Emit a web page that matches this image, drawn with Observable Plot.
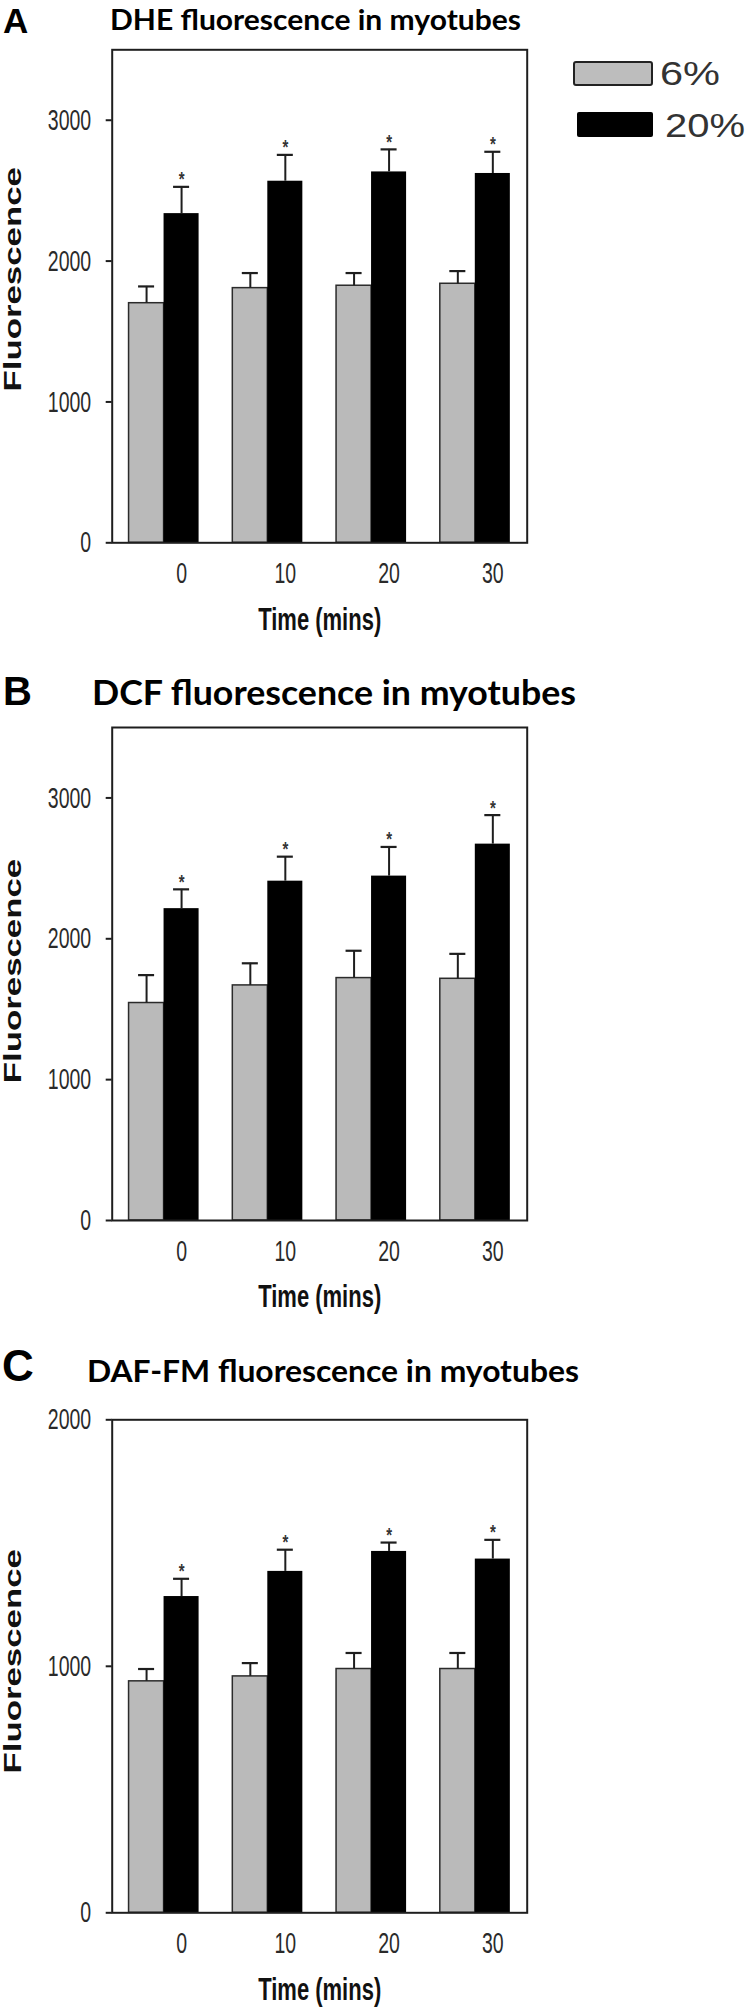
<!DOCTYPE html>
<html>
<head>
<meta charset="utf-8">
<script src="https://cdn.jsdelivr.net/npm/d3@7"></script>
<script src="https://cdn.jsdelivr.net/npm/@observablehq/plot@0.6"></script>
<style>
  html, body { margin: 0; padding: 0; background: #fff; }
  #root { position: relative; width: 750px; height: 2015px; overflow: hidden; background: #fff; }
  #root > svg.panel { position: absolute; left: 0; }
  #overlay { position: absolute; left: 0; top: 0; pointer-events: none; }
</style>
</head>
<body>
<div id="root"></div>
<script>
// ---------------- data ----------------
const times = ["0", "10", "20", "30"];
const groups = ["6%", "20%"];
const yTicksAB = [0, 1000, 2000, 3000];
const yTicksC = [0, 1000, 2000];

const dhe6 = [1701, 1808, 1825, 1839];
const dhe6Err = [119, 107, 90, 90];
const dhe20 = [2337, 2567, 2633, 2622];
const dhe20Err = [190, 187, 160, 154];

const dcf6 = [1544, 1669, 1721, 1716];
const dcf6Err = [198, 157, 194, 177];
const dcf20 = [2214, 2409, 2445, 2672];
const dcf20Err = [137, 174, 207, 206];

const daf6 = [939, 959, 989, 989];
const daf6Err = [50, 54, 65, 65];
const daf20 = [1283, 1385, 1466, 1435];
const daf20Err = [72, 88, 36, 78];

const panelLetters = ["A", "B", "C"];
const panelTitles = ["DHE fluorescence in myotubes", "DCF fluorescence in myotubes", "DAF-FM fluorescence in myotubes"];
const xLabel = "Time (mins)";
const yLabel = "Fluorescence";

// ---------------- helpers ----------------
const NUM_FONT = "'Liberation Sans', Arial, sans-serif";
const HALF = 35;

function rows(m, e, g) {
  return times.map((t, i) => ({time: t, group: g, mean: m[i], err: e[i], top: m[i] + e[i]}));
}

// horizontally condense / stretch a text around its own anchor point
function squeezeText(t, sx, sy) {
  const tr = t.getAttribute("transform") || "";
  t.setAttribute("transform", tr + ` scale(${sx},${sy})`);
}

function squeezeAll(svg) {
  svg.querySelectorAll("text").forEach((t) => {
    const s = t.textContent.trim();
    if (/^\d+$/.test(s)) squeezeText(t, 0.65, 1);
    else if (s === xLabel) squeezeText(t, 0.71, 1);
    else if (s === yLabel) squeezeText(t, 1.45, 1);
    else if (s === "*") squeezeText(t, 0.75, 1);
  });
}

function panel(cfg) {
  const low = rows(cfg.m6, cfg.e6, "6%");
  const high = rows(cfg.m20, cfg.e20, "20%");
  const ink = "#1e1e1e";
  const svg = Plot.plot({
    width: 540,
    height: cfg.height,
    marginLeft: 111.7,
    marginRight: 13.3,
    marginTop: cfg.marginTop,
    marginBottom: cfg.height - cfg.marginTop - 493,
    style: {fontFamily: NUM_FONT, color: "#2a2a2a", background: "transparent", overflow: "visible"},
    x: {domain: times, paddingInner: 0.325, paddingOuter: 0.1625, round: false},
    y: {domain: [0, cfg.ymax]},
    marks: [
      Plot.barY(low, {x: "time", y: "mean", fill: "#bababa", stroke: "#2b2b2b", strokeWidth: 1.5, insetRight: HALF}),
      Plot.barY(high, {x: "time", y: "mean", fill: "#000", insetLeft: HALF}),
      Plot.ruleX(low, {x: "time", y1: "mean", y2: "top", dx: -HALF / 2, stroke: ink, strokeWidth: 2}),
      Plot.ruleX(high, {x: "time", y1: "mean", y2: "top", dx: HALF / 2, stroke: ink, strokeWidth: 2}),
      Plot.tickY(low, {x: "time", y: "top", insetLeft: 9.5, insetRight: 44.5, stroke: ink, strokeWidth: 2.2}),
      Plot.tickY(high, {x: "time", y: "top", insetLeft: 44.5, insetRight: 9.5, stroke: ink, strokeWidth: 2.2}),
      Plot.text(high, {x: "time", y: "top", text: () => "*", dx: HALF / 2, dy: -7, fontSize: 20, fill: "#333", fontWeight: "bold"}),
      Plot.frame({stroke: ink, strokeWidth: 2}),
      Plot.axisY({ticks: cfg.ticks, tickFormat: (d) => String(d), tickSize: 6, tickPadding: 15, fontSize: 30, label: null, stroke: ink, strokeWidth: 2}),
      Plot.axisX({tickSize: 0, tickPadding: 19, dx: HALF / 2, fontSize: 30, label: null}),
      Plot.text([xLabel], {frameAnchor: "bottom", dy: 77, lineAnchor: "middle", textAnchor: "middle", fontSize: 31, fontWeight: "bold", fill: "#111"}),
      Plot.text([yLabel], {frameAnchor: "left", dx: -99, dy: cfg.labelDy, rotate: -90, textAnchor: "middle", lineAnchor: "middle", fontSize: 24, fontWeight: "bold", fill: "#111"})
    ]
  });
  squeezeAll(svg);
  svg.classList.add("panel");
  svg.style.top = cfg.top + "px";
  return svg;
}

const root = document.getElementById("root");

const configs = [
  {top: 0, height: 650, marginTop: 49.3, ymax: 3500, ticks: yTicksAB, labelDy: -17, m6: dhe6, e6: dhe6Err, m20: dhe20, e20: dhe20Err},
  {top: 660, height: 680, marginTop: 67, ymax: 3500, ticks: yTicksAB, labelDy: -3, m6: dcf6, e6: dcf6Err, m20: dcf20, e20: dcf20Err},
  {top: 1340, height: 675, marginTop: 79.3, ymax: 2000, ticks: yTicksC, labelDy: -5, m6: daf6, e6: daf6Err, m20: daf20, e20: daf20Err}
];
configs.forEach((c) => root.appendChild(panel(c)));

// ---------------- titles, letters, legend (overlay) ----------------
const NS = "http://www.w3.org/2000/svg";
const ov = document.createElementNS(NS, "svg");
ov.setAttribute("id", "overlay");
ov.setAttribute("width", 750);
ov.setAttribute("height", 2015);
root.appendChild(ov);

function addText(str, x, y, size, weight, family, fill, len) {
  const t = document.createElementNS(NS, "text");
  t.setAttribute("x", x);
  t.setAttribute("y", y);
  t.setAttribute("font-size", size);
  t.setAttribute("font-weight", weight);
  t.setAttribute("font-family", family);
  t.setAttribute("fill", fill);
  if (len) { t.setAttribute("textLength", len); t.setAttribute("lengthAdjust", "spacingAndGlyphs"); }
  t.textContent = str;
  ov.appendChild(t);
  return t;
}
function addRect(x, y, w, h, fill, stroke) {
  const r = document.createElementNS(NS, "rect");
  r.setAttribute("x", x); r.setAttribute("y", y);
  r.setAttribute("width", w); r.setAttribute("height", h);
  r.setAttribute("fill", fill);
  r.setAttribute("rx", 2);
  if (stroke) { r.setAttribute("stroke", stroke); r.setAttribute("stroke-width", 2); }
  ov.appendChild(r);
}

const LETTER_FONT = "'Liberation Sans', Arial, sans-serif";
const TITLE_FONT = "Lato, 'Open Sans', sans-serif";
addText(panelLetters[0], 3, 33, 35, "bold", LETTER_FONT, "#000");
addText(panelLetters[1], 3, 705, 40, "bold", LETTER_FONT, "#000");
addText(panelLetters[2], 2, 1381, 44, "bold", LETTER_FONT, "#000");
addText(panelTitles[0], 110, 30, 28, "bold", TITLE_FONT, "#000", 411);
addText(panelTitles[1], 92, 705, 35, "bold", TITLE_FONT, "#000", 484);
addText(panelTitles[2], 87, 1382, 30, "bold", TITLE_FONT, "#000", 492);

// legend
addRect(574, 62, 78, 23, "#bdbdbd", "#222");
addRect(577, 112, 76, 25, "#000", null);
addText(groups[0], 660, 85, 33, "normal", NUM_FONT, "#333", 60);
addText(groups[1], 665, 137, 33, "normal", NUM_FONT, "#333", 80);
</script>
</body>
</html>
